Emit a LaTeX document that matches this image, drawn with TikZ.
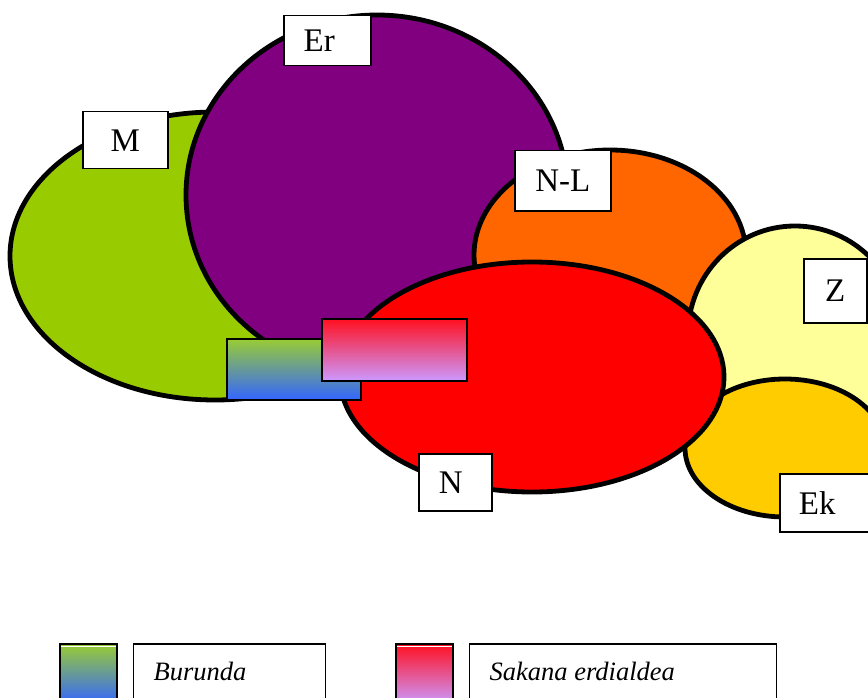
\documentclass[tikz,border=0pt]{standalone}
\usepackage{fontspec}
\setmainfont{Liberation Serif}
\usepackage{xcolor}
\usetikzlibrary{positioning}

\definecolor{mgreen}{RGB}{153,204,0}
\definecolor{erpurple}{RGB}{128,0,128}
\definecolor{nlorange}{RGB}{255,102,0}
\definecolor{zyellow}{RGB}{255,255,153}
\definecolor{ekgold}{RGB}{255,204,0}
\definecolor{nred}{RGB}{255,0,0}
\definecolor{burtop}{RGB}{153,204,51}
\definecolor{burbot}{RGB}{51,102,255}
\definecolor{saktop}{RGB}{255,16,32}
\definecolor{sakbot}{RGB}{204,153,255}

\begin{document}
\begin{tikzpicture}[x=1pt, y=-1pt]
    \tikzstyle{blob}=[draw=black, line width=4.8pt]
    \tikzstyle{tag}=[draw=black, fill=white, line width=1.5pt, inner sep=0pt,
      anchor=north west, font=\fontsize{33}{36}\selectfont]
    \tikzstyle{burgrad}=[top color=burtop, bottom color=burbot]
    \tikzstyle{sakgrad}=[top color=saktop, bottom color=sakbot]
    \tikzstyle{swatch}=[draw=black, line width=1.5pt, inner sep=0pt,
      minimum width=57pt, minimum height=60pt, anchor=north west]
    \tikzstyle{legbox}=[draw=black, line width=1.5pt, inner sep=0pt,
      minimum height=70pt, anchor=north west]
    \tikzstyle{legtext}=[inner sep=0pt, anchor=base west,
      font=\fontsize{26.5}{30}\selectfont\itshape]
    \clip (0,0) rectangle (868,698) ;
    % zones
    \draw[blob, fill=mgreen]   (215,256) ellipse [x radius=205, y radius=144] ;
    \draw[blob, fill=erpurple] (377,195) ellipse [x radius=191, y radius=180] ;
    \draw[blob, fill=nlorange] (610,255) ellipse [x radius=136, y radius=105] ;
    \draw[blob, fill=zyellow]  (795,335) ellipse [x radius=107, y radius=109] ;
    \draw[blob, fill=ekgold]   (785,448) ellipse [x radius=100, y radius=69] ;
    \draw[blob, fill=nred]     (532,377) ellipse [x radius=192, y radius=115] ;
    % labels
    \node[tag, minimum width=85pt, minimum height=57pt] (mlab) at (82,111) {M} ;
    \node[tag, minimum width=87pt, minimum height=50pt] (erlab) at (283,15) {\raisebox{-4pt}{Er}\kern16pt} ;
    \node[tag, minimum width=96pt, minimum height=60pt] (nllab) at (514,150) {N-L} ;
    \node[tag, minimum width=63pt, minimum height=64pt] (zlab) at (803,258) {Z} ;
    \node[tag, minimum width=73pt, minimum height=57pt] (nlab) at (418,453) {N\kern9pt} ;
    \node[tag, minimum width=92pt, minimum height=58pt] (eklab) at (779,473) {Ek\kern17pt} ;
    % shared areas
    \node[swatch, burgrad, minimum width=134pt, minimum height=61pt] (burbox) at (226,338) {} ;
    \node[swatch, sakgrad, minimum width=145pt, minimum height=62pt] (sakbox) at (321,318) {} ;
    % legend
    \node[swatch, burgrad] (bursw) at (59,643) {} ;
    \draw[white, line width=1pt] ([xshift=2pt,yshift=-3pt]bursw.north west) -- ([xshift=-2pt,yshift=-3pt]bursw.north east) ;
    \node[legbox, minimum width=192pt, right=15pt of bursw.north east, anchor=north west] (burleg) {} ;
    \node[legtext] (burtxt) at ([xshift=21pt,yshift=-37pt]burleg.north west) {Burunda} ;
    \node[swatch, sakgrad] (saksw) at (395,643) {} ;
    \draw[white, line width=1pt] ([xshift=2pt,yshift=-3pt]saksw.north west) -- ([xshift=-2pt,yshift=-3pt]saksw.north east) ;
    \node[legbox, minimum width=307pt, right=15pt of saksw.north east, anchor=north west] (sakleg) {} ;
    \node[legtext] (saktxt) at ([xshift=21pt,yshift=-37pt]sakleg.north west) {Sakana erdialdea} ;
\end{tikzpicture}
\end{document}
